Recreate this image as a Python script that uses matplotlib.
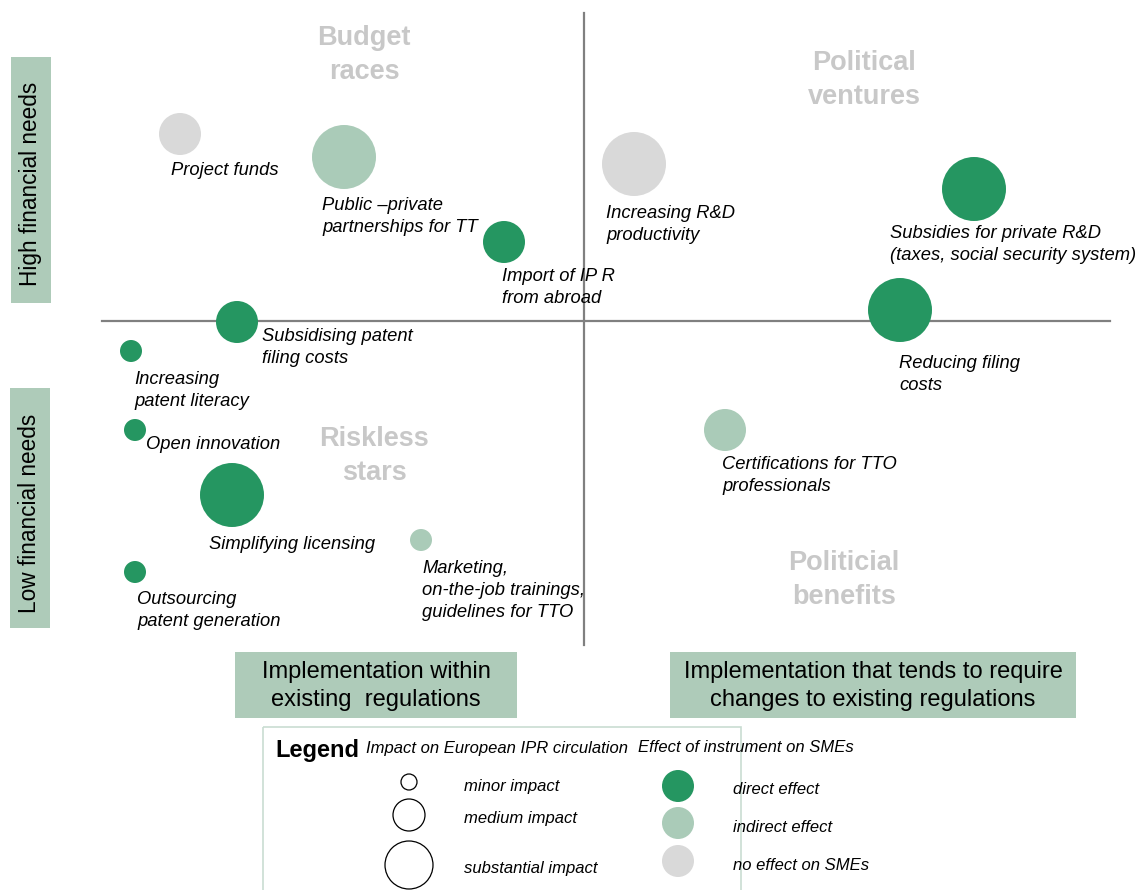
# Quadrant chart: IPR instruments by financial needs and regulatory change
import matplotlib
matplotlib.use("Agg")
import matplotlib.pyplot as plt
from matplotlib.patches import Circle, Rectangle

plt.rcParams["font.family"] = ["Liberation Sans", "DejaVu Sans"]

# Instruments (positions in picture pixels, impact level, effect on SMEs)
names = ["Project funds", "Public \u2013private\npartnerships for TT", "Import of IP R\nfrom abroad",
         "Increasing R&D\nproductivity", "Subsidies for private R&D\n(taxes, social security system)",
         "Reducing filing\ncosts", "Subsidising patent\nfiling costs", "Increasing\npatent literacy",
         "Open innovation", "Simplifying licensing", "Outsourcing\npatent generation",
         "Marketing,\non-the-job trainings,\nguidelines for TTO", "Certifications for TTO\nprofessionals"]
bx = [180, 344, 504, 634, 974, 900, 237, 131, 135, 232, 135, 421, 725]
by = [134, 157, 242, 164, 189, 310, 322, 351, 430, 495, 572, 540, 430]
impact = ["medium", "substantial", "medium", "substantial", "substantial", "substantial", "medium",
          "minor", "minor", "substantial", "minor", "minor", "medium"]
effect = ["none", "indirect", "direct", "none", "direct", "direct", "direct", "direct", "direct",
          "direct", "direct", "indirect", "indirect"]
# label anchor (left x, top y)
lx = [171, 322, 502, 606, 890, 899, 262, 134, 146, 209, 137, 422, 722]
ly = [162, 197, 268, 205, 225, 355, 328, 371, 436, 536, 591, 560, 456]

quadrants = ["Budget\nraces", "Political\nventures", "Riskless\nstars", "Politicial\nbenefits"]
qx = [364, 864, 374, 844]
qy = [55, 80, 456, 580]

radius = {"minor": 11, "medium": 21, "substantial": 32}
colors = {"direct": "#259661", "indirect": "#aacbb8", "none": "#d9d9d9"}
box_green = "#aecbb9"

fig = plt.figure(figsize=(11.39, 8.90), dpi=100)
ax = fig.add_axes([0, 0, 1, 1])
ax.set_xlim(0, 1139); ax.set_ylim(890, 0); ax.axis("off")

# cross lines
ax.plot([102, 1110], [321, 321], color="#808080", lw=1.6, zorder=1)
ax.plot([584, 584], [13, 645], color="#808080", lw=1.6, zorder=1)

for q, x, y in zip(quadrants, qx, qy):
    ax.text(x, y, q, ha="center", va="center", fontsize=19.5, fontweight="bold",
            color="#c8c8c8", linespacing=1.43)

for n, x, y, im, ef, tx, ty in zip(names, bx, by, impact, effect, lx, ly):
    ax.add_patch(Circle((x, y), radius[im], color=colors[ef], lw=0, zorder=2))
    ax.text(tx, ty, n, ha="left", va="top", fontsize=13.2, style="italic", linespacing=1.37, zorder=3)

# side boxes
ax.add_patch(Rectangle((11, 57), 40, 246, color=box_green, lw=0))
ax.text(31, 184, "High financial needs", rotation=90, ha="center", va="center", fontsize=16.3)
ax.add_patch(Rectangle((10, 388), 40, 240, color=box_green, lw=0))
ax.text(30, 513, "Low financial needs", rotation=90, ha="center", va="center", fontsize=16.3)

# bottom boxes
ax.add_patch(Rectangle((235, 652), 282, 66, color=box_green, lw=0))
ax.text(376, 686, "Implementation within\nexisting  regulations", ha="center", va="center",
        fontsize=17, linespacing=1.3)
ax.add_patch(Rectangle((670, 652), 406, 66, color=box_green, lw=0))
ax.text(873, 686, "Implementation that tends to require\nchanges to existing regulations",
        ha="center", va="center", fontsize=17, linespacing=1.3)

# legend
ax.add_patch(Rectangle((263, 727), 478, 170, fill=False, edgecolor="#c9ddd2", lw=1.2))
ax.text(275, 751, "Legend", fontsize=17, fontweight="bold", va="center")
ax.text(366, 748, "Impact on European IPR circulation", fontsize=12, style="italic", va="center")
ax.text(638, 748, "Effect of instrument on SMEs", fontsize=12, style="italic", va="center")

imp_labels = ["minor impact", "medium impact", "substantial impact"]
imp_r = [8, 16, 24]
imp_y = [782, 815, 865]
imp_ty = [786, 819, 868]
for lab, r, y, ty in zip(imp_labels, imp_r, imp_y, imp_ty):
    ax.add_patch(Circle((409, y), r, fill=False, edgecolor="black", lw=0.9))
    ax.text(464, ty, lab, fontsize=12, style="italic", va="center")

eff_labels = ["direct effect", "indirect effect", "no effect on SMEs"]
eff_keys = ["direct", "indirect", "none"]
eff_y = [786, 823, 861]
eff_ty = [789, 828, 866]
for lab, k, y, ty in zip(eff_labels, eff_keys, eff_y, eff_ty):
    ax.add_patch(Circle((678, y), 16, color=colors[k], lw=0))
    ax.text(733, ty, lab, fontsize=12, style="italic", va="center")

fig.savefig("out.png", dpi=100)
